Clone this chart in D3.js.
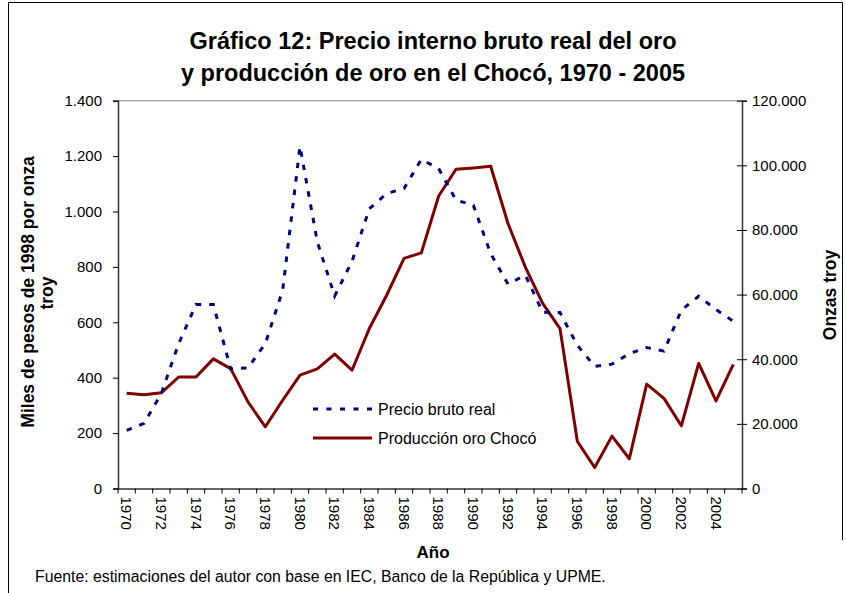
<!DOCTYPE html>
<html><head><meta charset="utf-8">
<script src="https://cdn.jsdelivr.net/npm/d3@7"></script>
<style>
body{margin:0;background:#fff;}
svg{display:block;font-family:Arial,"Liberation Sans",sans-serif;}
</style></head>
<body>
<svg id="c" width="846" height="593"></svg>
<script>
const years = d3.range(1970, 2006);
const price = [210, 235, 343, 523, 664, 664, 432, 435, 523, 716, 1235, 890, 695, 820, 1010, 1065, 1083, 1188, 1155, 1041, 1023, 848, 738, 770, 636, 635, 517, 441, 449, 487, 509, 496, 644, 694, 646, 604];
const production = [29500, 29000, 29600, 34500, 34500, 40100, 37100, 26800, 19100, 27300, 35100, 37000, 41600, 36600, 49500, 59800, 71200, 72900, 90500, 98800, 99200, 99700, 82000, 68500, 57300, 49500, 14600, 6500, 16200, 9200, 32300, 27900, 19400, 38700, 27100, 38400];
const leftTicks = [0, 200, 400, 600, 800, 1000, 1200, 1400];
const rightTicks = [0, 20000, 40000, 60000, 80000, 100000, 120000];
const xLabelYears = d3.range(1970, 2005, 2);
const titleLines = ["Gráfico 12: Precio interno bruto real del oro", "y producción de oro en el Chocó, 1970 - 2005"];
const seriesNames = ["Precio bruto real", "Producción oro Chocó"];

const svg = d3.select("#c");
const L = 118, R = 742, T = 100.7, B = 488.5;
const fmt = v => d3.format(",")(v).replace(/,/g, ".");
const TICK_FS = 15;

// outer border
svg.append("path").attr("d", "M8.5,593 L8.5,2.5 L842.5,2.5 L842.5,540")
  .attr("fill", "none").attr("stroke", "#000").attr("stroke-width", 1);

const x = d3.scaleBand().domain(years).range([L, R]);
const yL = d3.scaleLinear().domain([0, 1400]).range([B, T]);
const yR = d3.scaleLinear().domain([0, 120000]).range([B, T]);

// title
svg.append("text").attr("x", 433).attr("y", 49).attr("text-anchor", "middle")
  .attr("font-size", 23.5).attr("font-weight", "bold").text(titleLines[0]);
svg.append("text").attr("x", 433).attr("y", 81).attr("text-anchor", "middle")
  .attr("font-size", 23.5).attr("font-weight", "bold").text(titleLines[1]);

// plot top border
svg.append("line").attr("x1", L).attr("x2", R).attr("y1", T).attr("y2", T)
  .attr("stroke", "#888").attr("stroke-width", 1);

// left axis
const gl = svg.append("g").attr("transform", `translate(${L},0)`)
  .call(d3.axisLeft(yL).tickValues(leftTicks).tickFormat(fmt).tickSize(5).tickPadding(11));
// right axis
const gr = svg.append("g").attr("transform", `translate(${R},0)`)
  .call(d3.axisRight(yR).tickValues(rightTicks).tickFormat(fmt).tickSize(5).tickPadding(5));
gr.selectAll(".tick line").attr("x1", -5);
// bottom axis
const gb = svg.append("g").attr("transform", `translate(0,${B})`)
  .call(d3.axisBottom(x).tickValues(years).tickSize(0).tickFormat(""));
years.concat([2006]).forEach((yv, i) => {
  const xx = L + i * x.bandwidth();
  gb.append("line").attr("x1", xx).attr("x2", xx).attr("y1", 0).attr("y2", 5).attr("stroke", "#000");
});
xLabelYears.forEach(yv => {
  gb.append("text").attr("transform", `translate(${x(yv) + x.bandwidth() / 2 - 5.5},8) rotate(90)`)
    .attr("font-size", TICK_FS).attr("fill", "#000").attr("text-anchor", "start").text(yv);
});
[gl, gr, gb].forEach(g => {
  g.select(".domain").attr("stroke", "#333").attr("stroke-width", 1.5);
  g.selectAll(".tick line").attr("stroke", "#000");
  g.selectAll(".tick text").attr("font-size", TICK_FS).attr("fill", "#000").style("font-family", "Arial,'Liberation Sans',sans-serif");
});
gb.selectAll(".tick").remove();

// lines
const cx = d => x(d) + x.bandwidth() / 2;
const lineP = d3.line().x((d, i) => cx(years[i])).y(d => yL(d));
const lineQ = d3.line().x((d, i) => cx(years[i])).y(d => yR(d));
svg.append("path").datum(production).attr("d", lineQ).attr("fill", "none")
  .attr("stroke", "#800000").attr("stroke-width", 3).attr("stroke-linejoin", "round");
svg.append("path").datum(price).attr("d", lineP).attr("fill", "none")
  .attr("stroke", "#000080").attr("stroke-width", 3).attr("stroke-dasharray", "5.5,8");

// legend
svg.append("line").attr("x1", 313).attr("x2", 372).attr("y1", 409).attr("y2", 409)
  .attr("stroke", "#000080").attr("stroke-width", 3).attr("stroke-dasharray", "5,8.5");
svg.append("text").attr("x", 378).attr("y", 415).attr("font-size", 16).text(seriesNames[0]);
svg.append("line").attr("x1", 313).attr("x2", 372).attr("y1", 438).attr("y2", 438)
  .attr("stroke", "#800000").attr("stroke-width", 3);
svg.append("text").attr("x", 378).attr("y", 444).attr("font-size", 16).text(seriesNames[1]);

// axis titles
svg.append("text").attr("transform", "translate(34,292) rotate(-90)").attr("text-anchor", "middle")
  .attr("font-size", 17.5).attr("font-weight", "bold").text("Miles de pesos de 1998 por onza");
svg.append("text").attr("transform", "translate(53,293) rotate(-90)").attr("text-anchor", "middle")
  .attr("font-size", 17.5).attr("font-weight", "bold").text("troy");
svg.append("text").attr("transform", "translate(836,295) rotate(-90)").attr("text-anchor", "middle")
  .attr("font-size", 17.5).attr("font-weight", "bold").text("Onzas troy");
svg.append("text").attr("x", 433).attr("y", 558).attr("text-anchor", "middle")
  .attr("font-size", 17).attr("font-weight", "bold").text("Año");
svg.append("text").attr("x", 35).attr("y", 582).attr("font-size", 15.8)
  .text("Fuente: estimaciones del autor con base en IEC, Banco de la República y UPME.");
</script>
</body></html>
